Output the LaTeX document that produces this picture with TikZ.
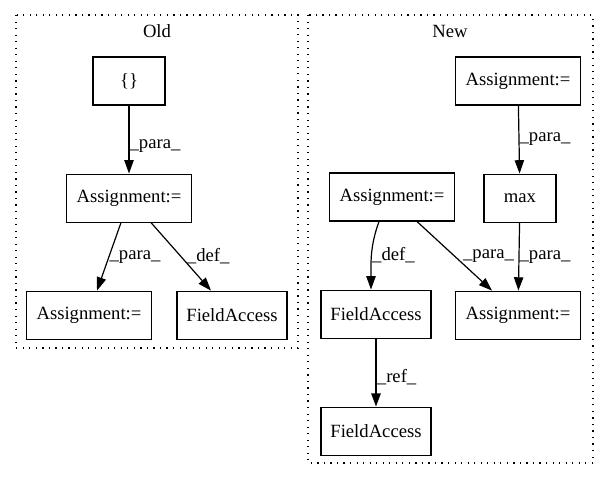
\documentclass[tikz,border=0pt]{standalone}
\usepackage{fontspec}
\setmainfont{Liberation Serif}
\usetikzlibrary{positioning,arrows.meta}

\begin{document}
\begin{tikzpicture}[x=0.75pt, y=-0.75pt, node distance=51pt,
        font=\fontsize{14}{17}\selectfont,
        box/.style={draw, line width=0.8pt, minimum height=36pt, minimum width=#1, inner xsep=2pt},
        box/.default=54pt,
        edge/.style={-{Triangle[length=10pt,width=7pt]}, line width=0.9pt},
        lbl/.style={anchor=west, inner sep=0pt},
        cluster/.style={dash pattern=on 0.9pt off 4pt, line width=0.9pt}]
        \useasboundingbox (0,0) rectangle (608,480);

        % Old
        \draw[cluster] (16,15) rectangle (298,348);
        \node (oTitle) at (157,31) {Old};
        \node (oBrace) [box] at (129,81) {\{\}};
        \node (oAssign) [box=94pt, below=of oBrace] {Assignment:=};
        \node (oAssignL) [box=94pt, below=of oAssign, xshift=-30pt] {Assignment:=};
        \node (oField) [box=82.5pt, below=of oAssign, xshift=77.25pt] {FieldAccess};

        \draw[edge] (oBrace) -- node[lbl, pos=0.6] {\_para\_} (oAssign);
        \draw[edge] ([xshift=-6pt]oAssign.south) -- node[lbl] {\_para\_} ([xshift=6pt]oAssignL.north);
        \draw[edge] ([xshift=16.5pt]oAssign.south) -- node[lbl, xshift=4pt] {\_def\_} ([xshift=-15.75pt]oField.north);

        % New
        \draw[cluster] (308,15) rectangle (593,463);
        \node (nTitle) at (450,31) {New};
        \node (nAssignT) [box=94pt] at (518,81) {Assignment:=};
        \node (nMax) [box, below=of nAssignT, xshift=1.5pt] {max};
        \node (nAssignB) [box=94pt, below=of nMax, xshift=-1.5pt] {Assignment:=};
        \node (nAssignL) [box=94pt] at (392,197) {Assignment:=};
        \node (nFieldM) [box=82.5pt, below=of nAssignL, xshift=-12pt] {FieldAccess};
        \node (nFieldB) [box=82.5pt, below=of nFieldM] {FieldAccess};

        \draw[edge] (nAssignT) -- node[lbl] {\_para\_} (nMax);
        \draw[edge] (nMax) -- node[lbl] {\_para\_} (nAssignB);
        \draw[edge] ([xshift=18.75pt]nAssignL.south) -- node[lbl, xshift=6pt] {\_para\_} ([xshift=-19.5pt]nAssignB.north);
        \draw[edge] ([xshift=-9.75pt]nAssignL.south) to[out=-110, in=90] node[lbl] {\_def\_} ([xshift=-3.75pt]nFieldM.north);
        \draw[edge, line width=1.4pt] (nFieldM) -- node[lbl, pos=0.57] {\_ref\_} (nFieldB);
    \end{tikzpicture}
\end{document}
